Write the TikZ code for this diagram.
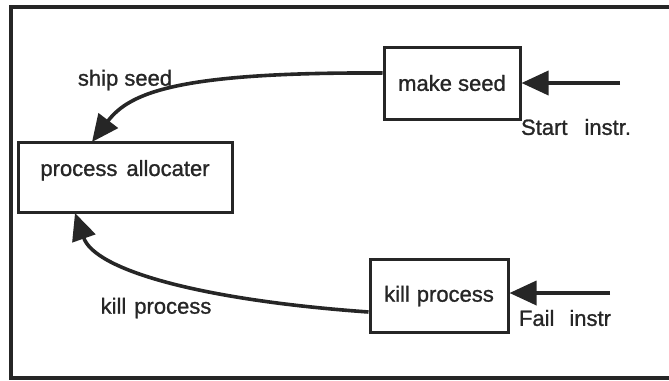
\documentclass[tikz,border=0pt]{standalone}
\usepackage{fontspec}
\setmainfont{Liberation Sans}
\newfontfamily\lblfont{Liberation Sans}[FakeBold=1.1]
\usetikzlibrary{arrows.meta}
\newcommand\gap[1]{\hspace{#1pt}}
\begin{document}
\begin{tikzpicture}[x=1pt,y=-1pt,
  every node/.style={font=\lblfont\fontsize{22}{26}\selectfont, text=black!85},
  box/.style={draw=black!85, line width=3pt, inner sep=0pt},
  conn/.style={draw=black!85, line width=3.6pt, -{Triangle[length=27pt,width=24pt]}},
  lbl/.style={inner sep=0pt}]
\useasboundingbox (0,0) rectangle (669,380);
\draw[line width=3.5pt, black!85] (11,7) rectangle (680,378);
% boxes
\node[box, minimum width=136pt, minimum height=72pt] (ms) at (452,83) {make seed};
\node[box, minimum width=214pt, minimum height=70pt, text depth=18pt] (pa) at (125,177) {process\gap{9}allocater};
\node[box, minimum width=138pt, minimum height=73pt] (kp) at (439,296) {kill\gap{7}process};
% inputs
\coordinate (sin) at (620,83);
\coordinate (fin) at (610,293);
\draw[conn] (sin) -- (ms.east);
\draw[conn] (fin) -- (kp.east |- fin);
\node[lbl] (slab) at (576,127) {Start\gap{17}instr.};
\node[lbl] (flab) at (565,318) {Fail\gap{15}instr};
% connectors
\coordinate (pat) at (92,142);
\coordinate (pab) at (75,213);
\draw[conn] (ms.west |- 0,73) .. controls (180,72) and (130,92) .. (pat);
\draw[conn] (kp.west |- 0,312) .. controls (200,300) and (95,270) .. (pab);
\node[lbl] (shiplab) at (125,80) {ship seed};
\node[lbl] (killlab) at (156,308) {kill\gap{8}process};
\end{tikzpicture}
\end{document}
